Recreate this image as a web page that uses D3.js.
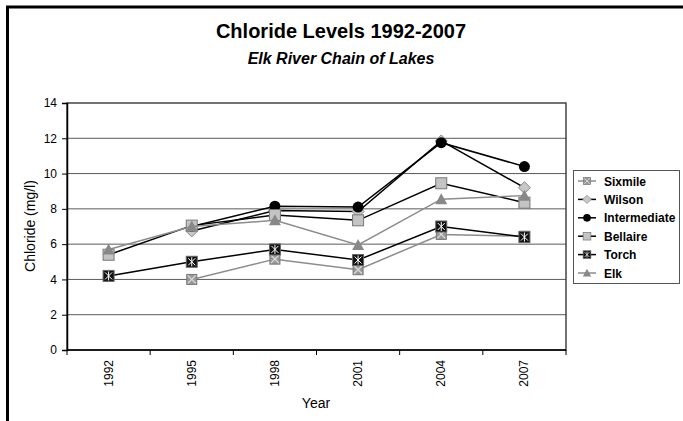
<!DOCTYPE html>
<html>
<head>
<meta charset="utf-8">
<script src="https://cdn.jsdelivr.net/npm/d3@7"></script>
<style>
  body { margin: 0; background: #fff; }
  svg text { font-family: "Liberation Sans", Arial, sans-serif; }
</style>
</head>
<body>
<script>
// data
let years = ['1992', '1995', '1998', '2001', '2004', '2007'];
let yTicks = [0, 2, 4, 6, 8, 10, 12, 14];
let sixmile      = [null, 4.0, 5.15, 4.55, 6.55, 6.45];
let wilson       = [null, 6.75, 7.9, 7.85, 11.85, 9.2];
let intermediate = [null, 7.0, 8.15, 8.1, 11.75, 10.4];
let bellaire     = [5.4, 7.05, 7.65, 7.35, 9.45, 8.35];
let torch        = [4.2, 5.0, 5.7, 5.1, 7.0, 6.4];
let elk          = [5.7, 7.0, 7.35, 5.95, 8.55, 8.75];

let series = [
    {name: 'Sixmile', values: sixmile, line: '#8c8c8c', mark: 'xsq'},
    {name: 'Wilson', values: wilson, line: '#000', mark: 'diamond'},
    {name: 'Intermediate', values: intermediate, line: '#000', mark: 'circle'},
    {name: 'Bellaire', values: bellaire, line: '#000', mark: 'square'},
    {name: 'Torch', values: torch, line: '#000', mark: 'star'},
    {name: 'Elk', values: elk, line: '#8c8c8c', mark: 'triangle'}
];

let W = 683, H = 421;
let svg = d3.select('body').append('svg')
    .attr('width', W)
    .attr('height', H);

// outer frame
svg.append('rect')
    .attr('x', 7.5).attr('y', 7)
    .attr('width', 720).attr('height', 500)
    .attr('fill', 'none')
    .attr('stroke', '#000')
    .attr('stroke-width', 3);

// titles
svg.append('text')
    .attr('x', 341).attr('y', 38)
    .attr('text-anchor', 'middle')
    .attr('font-size', 20).attr('font-weight', 'bold')
    .text('Chloride Levels 1992-2007');
svg.append('text')
    .attr('x', 341).attr('y', 64)
    .attr('text-anchor', 'middle')
    .attr('font-size', 16).attr('font-weight', 'bold').attr('font-style', 'italic')
    .text('Elk River Chain of Lakes');

let pLeft = 67, pRight = 566, pTop = 103, pBottom = 350;
let x = d3.scaleBand().domain(years).range([pLeft, pRight]);
let y = d3.scaleLinear().domain([0, 14]).range([pBottom, pTop]);

// gridlines
svg.append('g').selectAll('line')
    .data(yTicks.filter(d => d > 0 && d < 14))
    .join('line')
        .attr('x1', pLeft).attr('x2', pRight)
        .attr('y1', d => y(d)).attr('y2', d => y(d))
        .attr('stroke', '#5a5a5a')
        .attr('stroke-width', 1);

// plot box
svg.append('rect')
    .attr('x', pLeft).attr('y', pTop)
    .attr('width', pRight - pLeft).attr('height', pBottom - pTop)
    .attr('fill', 'none')
    .attr('stroke', '#444')
    .attr('stroke-width', 1.5);

// y axis
let yAxis = svg.append('g')
    .attr('transform', `translate(${pLeft},0)`)
    .call(d3.axisLeft(y).tickValues(yTicks).tickSize(5).tickPadding(5));
yAxis.select('.domain').attr('stroke', '#000').attr('stroke-width', 1.5);
yAxis.selectAll('text').attr('font-size', 12).attr('fill', '#000')
    .attr('font-family', '"Liberation Sans", Arial, sans-serif');

// x axis, ticks between categories
let xAxis = svg.append('g')
    .attr('transform', `translate(0,${pBottom})`);
xAxis.append('line')
    .attr('x1', pLeft).attr('x2', pRight)
    .attr('stroke', '#000').attr('stroke-width', 1.5);
xAxis.selectAll('line.tk')
    .data(years.concat(['end']))
    .join('line')
        .attr('class', 'tk')
        .attr('x1', (d, i) => pLeft + i * x.step())
        .attr('x2', (d, i) => pLeft + i * x.step())
        .attr('y1', 0).attr('y2', 5)
        .attr('stroke', '#000');
xAxis.selectAll('text')
    .data(years)
    .join('text')
        .attr('transform', d => `translate(${x(d) + x.bandwidth() / 2 + 4},10) rotate(-90)`)
        .attr('text-anchor', 'end')
        .attr('font-size', 12)
        .text(d => d);

// axis titles
svg.append('text')
    .attr('transform', `translate(35,226) rotate(-90)`)
    .attr('text-anchor', 'middle')
    .attr('font-size', 14)
    .text('Chloride (mg/l)');
svg.append('text')
    .attr('x', 316).attr('y', 408)
    .attr('text-anchor', 'middle')
    .attr('font-size', 14)
    .text('Year');

function AddMarker(sel, kind, cx, cy) {
    let g = sel.append('g').attr('transform', `translate(${cx},${cy})`);
    if (kind == 'xsq') {
        g.append('rect').attr('x', -5).attr('y', -5).attr('width', 10).attr('height', 10)
            .attr('fill', '#999').attr('stroke', '#777');
        g.append('path').attr('d', 'M-4,-4L4,4M-4,4L4,-4')
            .attr('stroke', '#ddd').attr('stroke-width', 1.2);
    } else if (kind == 'diamond') {
        g.append('path').attr('d', 'M0,-6L6,0L0,6L-6,0Z')
            .attr('fill', '#c8c8c8').attr('stroke', '#888');
    } else if (kind == 'circle') {
        g.append('circle').attr('r', 5.5).attr('fill', '#000');
    } else if (kind == 'square') {
        g.append('rect').attr('x', -5.5).attr('y', -5.5).attr('width', 11).attr('height', 11)
            .attr('fill', '#c4c4c4').attr('stroke', '#777');
    } else if (kind == 'star') {
        g.append('rect').attr('x', -5.5).attr('y', -5.5).attr('width', 11).attr('height', 11)
            .attr('fill', '#111').attr('stroke', '#666');
        g.append('path').attr('d', 'M-3.5,-3.5L3.5,3.5M-3.5,3.5L3.5,-3.5M0,-4.5L0,4.5')
            .attr('stroke', '#fff').attr('stroke-width', 1);
    } else if (kind == 'triangle') {
        g.append('path').attr('d', 'M0,-6L6,5L-6,5Z')
            .attr('fill', '#888');
    }
}

let cx = d => x(d) + x.bandwidth() / 2;
let line = d3.line()
    .defined(d => d.v != null)
    .x(d => cx(d.year))
    .y(d => y(d.v));

series.forEach(s => {
    let pts = years.map((yr, i) => ({year: yr, v: s.values[i]}));
    svg.append('path')
        .datum(pts)
        .attr('d', line)
        .attr('fill', 'none')
        .attr('stroke', s.line)
        .attr('stroke-width', 1.5);
    let mg = svg.append('g');
    pts.filter(p => p.v != null).forEach(p => AddMarker(mg, s.mark, cx(p.year), y(p.v)));
});

// legend
let lg = svg.append('g');
lg.append('rect')
    .attr('x', 573.5).attr('y', 170.5)
    .attr('width', 106).attr('height', 113)
    .attr('fill', '#fff')
    .attr('stroke', '#555');
series.forEach((s, i) => {
    let ly = 181 + i * 18.4;
    lg.append('line')
        .attr('x1', 578).attr('x2', 596)
        .attr('y1', ly).attr('y2', ly)
        .attr('stroke', s.line).attr('stroke-width', 1.5);
    let m = lg.append('g').attr('transform', `translate(587,${ly}) scale(0.7)`);
    AddMarker(m, s.mark, 0, 0);
    lg.append('text')
        .attr('x', 604).attr('y', ly + 4.5)
        .attr('font-size', 12).attr('font-weight', 'bold')
        .text(s.name);
});
</script>
</body>
</html>
